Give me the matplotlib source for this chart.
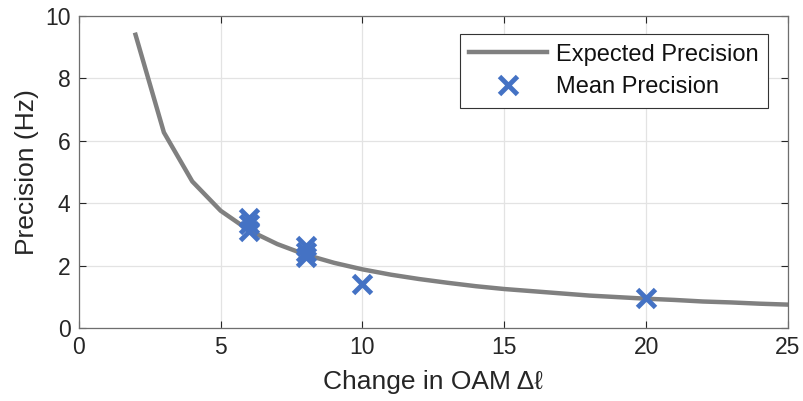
import matplotlib
matplotlib.use("Agg")
from matplotlib import pyplot as plt

# curve (integer steps, 2..25)
dl_curve = [2, 3, 4, 5, 6, 7, 8, 9, 10, 11, 12, 13, 14, 15, 16, 17, 18, 19, 20, 21, 22, 23, 24, 25]
expected = [9.40, 6.27, 4.70, 3.76, 3.13, 2.69, 2.35, 2.09, 1.88, 1.71, 1.57, 1.45,
            1.34, 1.25, 1.18, 1.11, 1.04, 0.99, 0.94, 0.90, 0.85, 0.82, 0.78, 0.75]

# measured points
dl_meas = [6, 6, 6, 8, 8, 8, 10, 20]
mean_prec = [3.52, 3.32, 3.12, 2.62, 2.45, 2.28, 1.40, 0.96]

plt.rcParams['font.family'] = ['Liberation Sans', 'DejaVu Sans']
txt = '#262626'

fig = plt.figure(figsize=(8.04, 4.01), dpi=100)
ax = fig.add_axes([0.098, 0.182, 0.882, 0.778])

ax.plot(dl_curve, expected, color='#808080', lw=3.2, label='Expected Precision')
ax.plot(dl_meas, mean_prec, ls='none', marker='x', ms=13, mew=3.5,
        color='#4472C4', label='Mean Precision')

ax.set_xlim(0, 25)
ax.set_ylim(0, 10)
ax.set_xticks([0, 5, 10, 15, 20, 25])
ax.set_yticks([0, 2, 4, 6, 8, 10])
ax.grid(True, color='#e3e3e3', lw=0.9)
ax.set_axisbelow(True)
ax.tick_params(direction='in', top=True, right=True, labelsize=16.5, colors=txt,
               length=5, width=0.8, pad=6)
for s in ax.spines.values():
    s.set_color('#6e6e6e')
    s.set_linewidth(0.9)

ax.set_xlabel('Change in OAM Δℓ', fontsize=19, color=txt, labelpad=8)
ax.set_ylabel('Precision (Hz)', fontsize=19, color=txt, labelpad=4)

leg = ax.legend(loc='upper right', fontsize=17, handlelength=3.3, fancybox=False,
                framealpha=1, edgecolor='#333333', borderpad=0.4, labelspacing=0.45,
                handletextpad=0.35, bbox_to_anchor=(0.988, 0.98))
leg.get_frame().set_linewidth(0.8)
for t in leg.get_texts():
    t.set_color('#111111')

fig.savefig('out.png', dpi=100)
